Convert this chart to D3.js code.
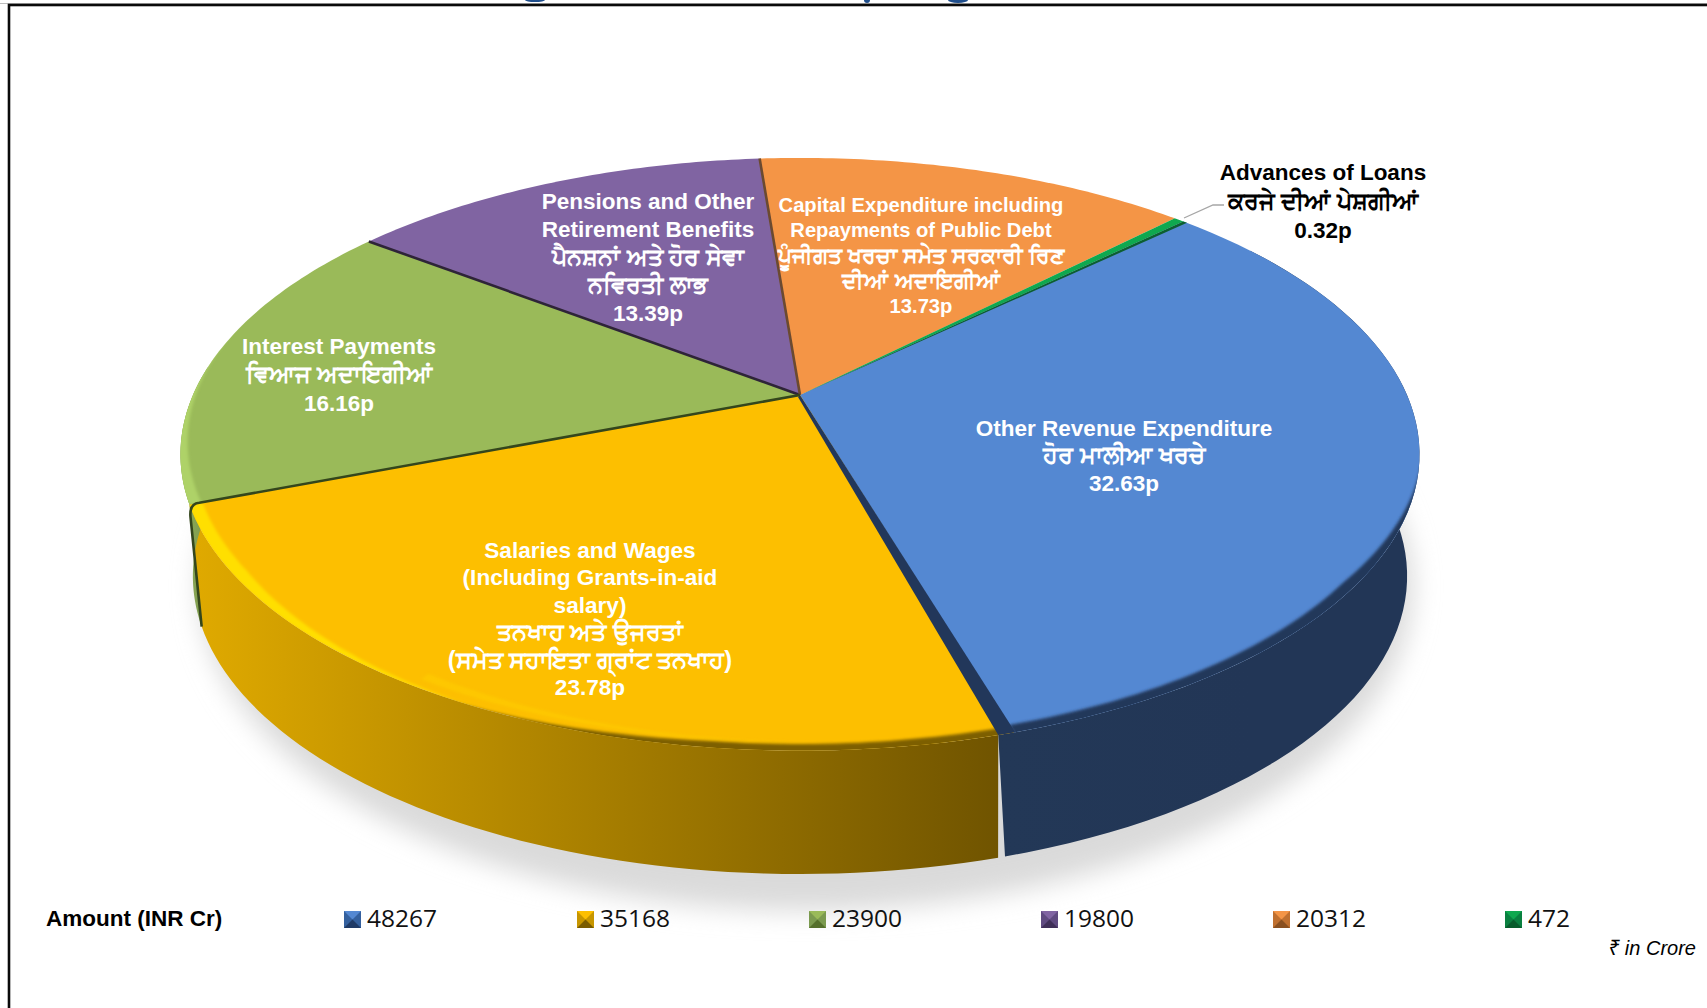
<!DOCTYPE html>
<html><head><meta charset="utf-8">
<script src="https://cdn.jsdelivr.net/npm/d3@7"></script>
<style>
html,body{margin:0;padding:0;background:#fff;overflow:hidden}
svg{display:block}
</style></head><body>
<svg id="c" width="1707" height="1008"></svg>
<script>
const sliceNames=["Other Revenue Expenditure","Salaries and Wages","Interest Payments","Pensions","Capital Expenditure","Advances of Loans"];
const shareValues=[32.63,23.78,16.16,13.39,13.73,0.32];
const amountValues=[48267,35168,23900,19800,20312,472];
const topColors=["#5488d2","#fdbf00","#9aba59","#8064a2","#f49546","#0fa84f"];
const wallLight=["#233857","#e0aa00","#8aa654","#6a5088","#c9772f","#0c7a3a"];
const wallDark=["#223656","#705400","#7b9a4f","#4a3668","#a86026","#0a5a2c"];
const keyDark=["#1f3a66","#7a5c00","#55702c","#3f2f58","#8a5020","#085c2c"];
const keyMid=["#34609e","#c79600","#7b9a4f","#5f4a80","#c0702f","#0a8040"];
const labelLines=[
 ["Other Revenue Expenditure","ਹੋਰ ਮਾਲੀਆ ਖਰਚੇ","32.63p"],
 ["Salaries and Wages","(Including Grants-in-aid","salary)","ਤਨਖਾਹ ਅਤੇ ਉਜਰਤਾਂ","(ਸਮੇਤ ਸਹਾਇਤਾ ਗ੍ਰਾਂਟ ਤਨਖਾਹ)","23.78p"],
 ["Interest Payments","ਵਿਆਜ ਅਦਾਇਗੀਆਂ","16.16p"],
 ["Pensions and Other","Retirement Benefits","ਪੈਨਸ਼ਨਾਂ ਅਤੇ ਹੋਰ ਸੇਵਾ","ਨਵਿਰਤੀ ਲਾਭ","13.39p"],
 ["Capital Expenditure including","Repayments of Public Debt","ਪੂੰਜੀਗਤ ਖਰਚਾ ਸਮੇਤ ਸਰਕਾਰੀ ਰਿਣ","ਦੀਆਂ ਅਦਾਇਗੀਆਂ","13.73p"],
 ["Advances of Loans","ਕਰਜੇ ਦੀਆਂ ਪੇਸ਼ਗੀਆਂ","0.32p"]
];
const legendTitle="Amount (INR Cr)";
const noteText="₹ in Crore";

const svg=d3.select("#c"),defs=svg.append("defs");
const F="'Liberation Sans','Noto Sans',Arial,sans-serif";

/* perspective disc */
const cx=800,cy=395,A=607,B=284.5,K=0.2,DEPTH=121.5,S=0.98,BLOW=286;
const proj=(t,r=1,low=false)=>{ // t clockwise from top
  const x=r*Math.sin(t),y=-r*Math.cos(t),w=1-K*y;
  return low?[cx+S*A*x/w,cy+BLOW*y/w+DEPTH]:[cx+A*x/w,cy+B*y/w];
};
const rad=d=>d*Math.PI/180;
const pie=d3.pie().sort(null).value(d=>d).startAngle(rad(46)).endAngle(rad(46)+2*Math.PI);
const arcs=pie(shareValues);
const line=d3.line();
const steps=(a,b)=>d3.range(0,61).map(i=>a+(b-a)*i/60);
const rim=(a,b,low)=>steps(a,b).map(t=>proj(t,1,low));
const blueEnd=arcs[0].endAngle, GAP=0.022;

/* shadow */
const addBlur=(id,sd)=>defs.append("filter").attr("id",id).attr("x","-20%").attr("y","-20%").attr("width","140%").attr("height","140%")
  .append("feGaussianBlur").attr("stdDeviation",sd);
addBlur("blur",13);addBlur("blur2",1.8);addBlur("blur3",1.6);
svg.append("ellipse").attr("cx",cx+6).attr("cy",cy+DEPTH+70).attr("rx",A*1.0).attr("ry",B*1.14)
  .attr("fill","#dadada").attr("filter","url(#blur)");

/* walls */
const wall=svg.append("g");
arcs.forEach((d,i)=>{
  let a=Math.max(d.startAngle,Math.PI/2-0.6),b=Math.min(d.endAngle,3*Math.PI/2+0.1),aLow=a,bLow=b;
  if(i==0){b=blueEnd+GAP;bLow=blueEnd+GAP*0.3;}
  if(i==1){a=blueEnd+GAP;aLow=blueEnd+GAP*0.75;}
  if(a>=b)return;
  const p0=proj(a),p1=proj(b),id="w"+i;
  const grad=defs.append("linearGradient").attr("id",id).attr("gradientUnits","userSpaceOnUse")
    .attr("x1",Math.min(p0[0],p1[0])).attr("x2",Math.max(p0[0],p1[0])).attr("y1",0).attr("y2",0);
  grad.append("stop").attr("offset",0).attr("stop-color",wallLight[i]);
  grad.append("stop").attr("offset",1).attr("stop-color",wallDark[i]);
  wall.append("path").attr("d",line(rim(a,b,false).concat(rim(bLow,aLow,true)))+"Z").attr("fill",`url(#${id})`);
});

/* top faces */
const faces=svg.append("g");
arcs.forEach((d,i)=>{
  const pts=[[cx,cy]].concat(rim(d.startAngle,d.endAngle,false));
  defs.append("clipPath").attr("id","clip"+i).append("path").attr("d",line(pts)+"Z");
  faces.append("path").attr("d",line(pts)+"Z").attr("fill",topColors[i]);
});

/* rim shading: soft crescents that taper to nothing over the last part of their run */
const crescent=(a,b,r0,r1,w0,w1,hold)=>{
  const ts=steps(a,b);
  const out=ts.map(t=>proj(t,r1));
  const inn=ts.map((t,i)=>{const f=i/60,k=w0+(w1-w0)*Math.max(0,(f-hold)/(1-hold));return proj(t,r1-(r1-r0)*k);}).reverse();
  return line(out.concat(inn))+"Z";
};
const bevel=svg.append("g");
[[0,"#22375a",blueEnd,rad(96),0.982,1.01,1,0,0.55,"blur2",1],
 [1,"#7d5f00",blueEnd,rad(215),0.985,1.01,1,0,0.45,"blur2",1],
 [1,"#ffd000",rad(178),rad(212),0.966,0.982,0,1,0,"blur3",0.5],
 [1,"#ffdf00",rad(249),rad(205),0.98,1.002,1,0,0.3,"blur3",1]].forEach(([i,c,a,b,r0,r1,w0,w1,h,f,o])=>{
  bevel.append("g").attr("clip-path",`url(#clip${i})`).append("path").attr("d",crescent(a,b,r0,r1,w0,w1,h))
   .attr("fill",c).attr("opacity",o).attr("filter",`url(#${f})`);
});
// light crescent along the green rim, tapering toward the top
const yEnd=arcs[1].endAngle;
svg.append("g").attr("clip-path","url(#clip2)").append("path")
  .attr("d",crescent(yEnd,rad(292),0.982,1.01,1,0,0)).attr("fill","#aed268").attr("filter","url(#blur3)");

/* separators */
const sep=svg.append("g");
// blue wall visible between blue and yellow faces
sep.append("path").attr("d",line([[cx,cy],proj(blueEnd-0.002),proj(blueEnd+GAP),[cx-2,cy+2]])+"Z").attr("fill","#22375a");
// dark band under the small green slice
sep.append("path").attr("d",line([[cx,cy],proj(rad(46)),proj(rad(46.5))])+"Z").attr("fill","#0c5f30");
[[2,"#2e2438",2.6],[3,"#6b4a30",2.6]].forEach(([i,c,w])=>{
  const r=proj(arcs[i].endAngle);
  sep.append("path").attr("d",line([[cx,cy],r])).attr("stroke",c).attr("stroke-width",w).attr("fill","none");
});
// yellow/green edge, rounded where it turns down the wall
const yIn=proj(yEnd,0.985),yl=proj(yEnd),ylLow=proj(yEnd,1,true);
const pth=d3.path();
pth.moveTo(cx,cy);pth.lineTo(yIn[0],yIn[1]);
pth.quadraticCurveTo(yl[0],yl[1]-1,yl[0]+1,yl[1]+12);
pth.lineTo(ylLow[0],ylLow[1]);
sep.append("path").attr("d",pth.toString()).attr("stroke","#34461c").attr("stroke-width",2.6).attr("fill","none");

/* labels */
const labelPos=[[1124,435.5],[590,558],[339,354],[648,208.5],[921,212],[1323,180]];
const latinSize=[22.5,22.6,22.5,22.5,20.2,22.5];
const panjabiSize=[24.3,23.6,24.3,24.3,21.7,24];
const lineGap=[27.8,27.4,28.3,28,25.3,28.8];
const lab=svg.append("g").attr("text-anchor","middle").attr("font-family",F).attr("font-weight","700");
labelLines.forEach((ls,i)=>{
  ls.forEach((s,j)=>{
    lab.append("text").attr("x",labelPos[i][0]).attr("y",labelPos[i][1]+j*lineGap[i])
      .attr("font-size",/[\u0A00-\u0A7F]/.test(s)?panjabiSize[i]:latinSize[i]).attr("fill",i==5?"#000":"#fff").text(s);
  });
});
/* leader */
svg.append("path").attr("d",line([[1184,218],[1213,205],[1224,205]])).attr("fill","none").attr("stroke","#a6a6a6").attr("stroke-width",1.3);

/* legend */
const legendX=[344,577,809,1041,1273,1505];
const keys=svg.append("g");
amountValues.forEach((v,i)=>{
  const x=legendX[i],y=911,s=17,c=[x+s/2,y+s/2];
  keys.append("rect").attr("x",x).attr("y",y).attr("width",s).attr("height",s).attr("fill",keyMid[i]);
  keys.append("path").attr("d",line([[x,y],c,[x+s,y]])+"Z").attr("fill",topColors[i]);
  keys.append("path").attr("d",line([[x,y+s],c,[x+s,y+s]])+"Z").attr("fill",keyDark[i]);
  keys.append("text").attr("x",x+23).attr("y",927).attr("font-family","'Open Sans',sans-serif").attr("font-size",24.5).attr("fill","#111").text(v);
});
svg.append("text").attr("x",46).attr("y",926).attr("font-family",F).attr("font-weight",700).attr("font-size",22.5).attr("fill","#000").text(legendTitle);
svg.append("text").attr("x",1696).attr("y",955).attr("text-anchor","end").attr("font-family",F).attr("font-style","italic").attr("font-size",20).attr("fill","#000").text(noteText);

/* frame */
svg.append("rect").attr("x",0).attr("y",3).attr("width",1707).attr("height",1).attr("fill","#bdbdbd");
svg.append("rect").attr("x",9).attr("y",5).attr("width",1720).attr("height",1040).attr("fill","none").attr("stroke","#0a0a0a").attr("stroke-width",2.6);
/* the clipped title's descenders, cut by the top of the image */
const titleBits=[[535,0,10,2],[867,0,3,3],[958,0,10,3]];
svg.append("g").selectAll("ellipse").data(titleBits).join("ellipse")
  .attr("cx",d=>d[0]).attr("cy",d=>d[1]).attr("rx",d=>d[2]).attr("ry",d=>d[3]).attr("fill","#1f4e8c");
</script></body></html>
